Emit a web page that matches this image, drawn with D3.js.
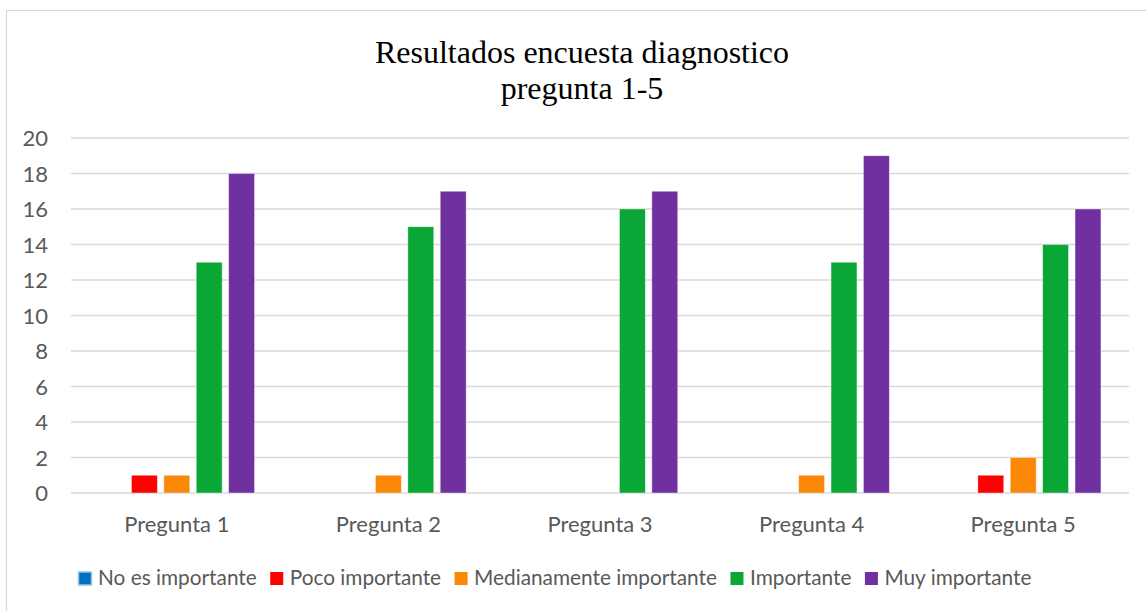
<!DOCTYPE html>
<html>
<head>
<meta charset="utf-8">
<script src="https://cdn.jsdelivr.net/npm/d3@7"></script>
<style>
  html, body { margin: 0; padding: 0; background: #fff; }
  svg { display: block; }
</style>
</head>
<body>
<svg id="chart"></svg>
<script>
// chart data
var categories = ['Pregunta 1', 'Pregunta 2', 'Pregunta 3', 'Pregunta 4', 'Pregunta 5'];
var seriesNames = ['No es importante', 'Poco importante', 'Medianamente importante', 'Importante', 'Muy importante'];
var seriesColors = ['#0070c0', '#ff0000', '#fb8806', '#0aa636', '#7030a0'];
var noEsImportante = [0, 0, 0, 0, 0];
var pocoImportante = [1, 0, 0, 0, 1];
var medianamenteImportante = [1, 1, 0, 1, 2];
var importante = [13, 15, 16, 13, 14];
var muyImportante = [18, 17, 17, 19, 16];
var yTicks = [0, 2, 4, 6, 8, 10, 12, 14, 16, 18, 20];
var titleLines = ['Resultados encuesta diagnostico', 'pregunta 1-5'];

var seriesValues = [noEsImportante, pocoImportante, medianamenteImportante, importante, muyImportante];

var width = 1146, height = 611;
var margin = {top: 138, right: 17, bottom: 118, left: 71};

var svg = d3.select('#chart')
	.attr('width', width)
	.attr('height', height);

// outer chart border (right/bottom run off the picture)
svg.append('rect')
	.attr('x', 6.5)
	.attr('y', 10.5)
	.attr('width', width)
	.attr('height', height)
	.attr('fill', '#fff')
	.attr('stroke', '#d9d9d9')
	.attr('stroke-width', 1.2);

// title
svg.append('text')
	.attr('text-anchor', 'middle')
	.attr('font-family', '"Liberation Serif", "Times New Roman", serif')
	.attr('font-size', 32)
	.attr('fill', '#000')
	.selectAll('tspan')
	.data(titleLines)
	.enter()
	.append('tspan')
	.attr('x', 582)
	.attr('y', function(d, i) { return 63 + i * 36; })
	.text(function(d) { return d; });

var x0 = d3.scaleBand()
	.domain(categories)
	.range([margin.left, width - margin.right]);

var x1 = d3.scaleBand()
	.domain(seriesNames)
	.range([0, x0.bandwidth()])
	.paddingInner(0.2)
	.paddingOuter(0.866);

var y = d3.scaleLinear()
	.domain([0, 20])
	.range([height - margin.bottom, margin.top]);

// gridlines
svg.append('g')
	.selectAll('line')
	.data(yTicks)
	.enter()
	.append('line')
	.attr('x1', margin.left)
	.attr('x2', width - margin.right)
	.attr('y1', function(d) { return y(d); })
	.attr('y2', function(d) { return y(d); })
	.attr('stroke', '#d9d9d9')
	.attr('stroke-width', 1.3);

var font = 'Lato, Calibri, "Noto Sans", sans-serif';

// y labels
var yAxis = svg.append('g')
	.attr('transform', 'translate(' + (margin.left - 23) + ',0)')
	.call(d3.axisLeft(y).tickValues(yTicks).tickSize(0).tickPadding(0));
yAxis.select('.domain').remove();
yAxis.selectAll('text')
	.attr('font-family', font)
	.attr('font-size', 22)
	.attr('fill', '#595959')
	.attr('dy', '0.36em');

// x labels
var xAxis = svg.append('g')
	.attr('transform', 'translate(0,' + (height - margin.bottom) + ')')
	.call(d3.axisBottom(x0).tickSize(0).tickPadding(23));
xAxis.select('.domain').remove();
xAxis.selectAll('text')
	.attr('font-family', font)
	.attr('font-size', 22)
	.attr('fill', '#595959');

// bars
var groups = svg.append('g')
	.selectAll('g')
	.data(categories)
	.enter()
	.append('g')
	.attr('transform', function(d) { return 'translate(' + x0(d) + ',0)'; });

groups.selectAll('rect')
	.data(function(d, ci) {
		return seriesNames.map(function(s, si) { return {series: s, value: seriesValues[si][ci], color: seriesColors[si]}; });
	})
	.enter()
	.filter(function(d) { return d.value > 0; })
	.append('rect')
	.attr('x', function(d) { return x1(d.series); })
	.attr('y', function(d) { return y(d.value); })
	.attr('width', x1.bandwidth())
	.attr('height', function(d) { return y(0) - y(d.value); })
	.attr('fill', function(d) { return d.color; })
	.attr('stroke', 'rgba(255,255,255,0.5)')
	.attr('stroke-width', 0.8);

// legend
var legend = svg.append('g')
	.attr('transform', 'translate(0,' + 585 + ')');

var legendX = 78;
seriesNames.forEach(function(name, i) {
	var item = legend.append('g')
		.attr('transform', 'translate(' + legendX + ',0)');
	item.append('rect')
		.attr('x', 0.5)
		.attr('y', -13)
		.attr('width', 13)
		.attr('height', 13)
		.attr('fill', seriesColors[i])
		.attr('stroke', i === 0 ? '#9dc3e6' : 'none')
		.attr('stroke-width', 1.5);
	var label = item.append('text')
		.attr('x', 20)
		.attr('font-family', font)
		.attr('font-size', 20.8)
		.attr('fill', '#595959')
		.text(name);
	legendX += 20 + label.node().getComputedTextLength() + 13;
});
</script>
</body>
</html>
